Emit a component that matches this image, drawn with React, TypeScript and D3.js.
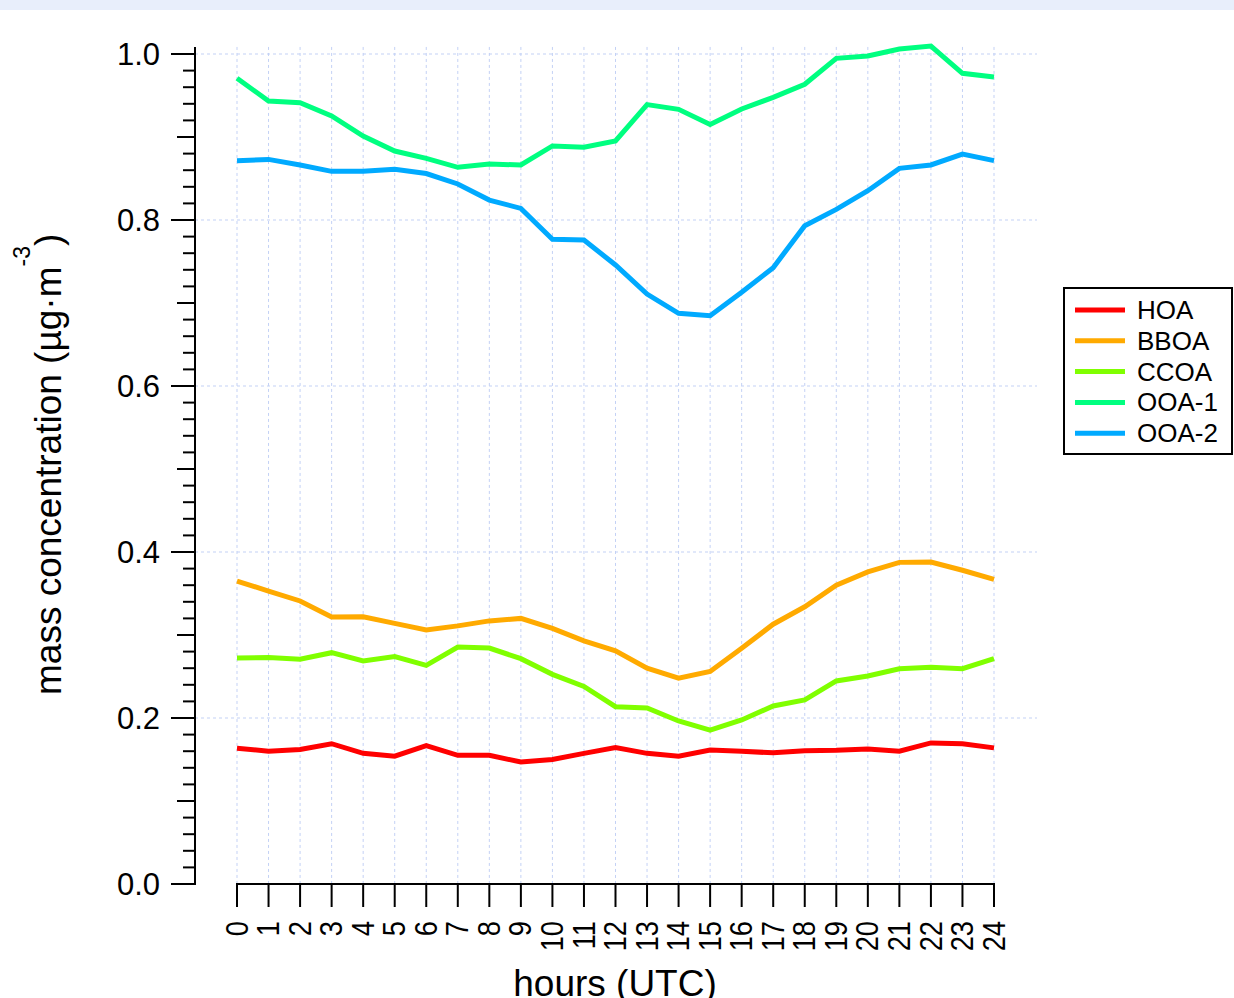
import * as d3 from 'd3';

const hours = d3.range(0, 25);

const seriesNames = ['HOA', 'BBOA', 'CCOA', 'OOA-1', 'OOA-2'];
const seriesColors = ['#ff0000', '#ffaa00', '#80ff00', '#00ff80', '#00aaff'];

const hoa = [
  0.1635, 0.16, 0.162, 0.169, 0.1574, 0.154, 0.1667, 0.155, 0.155, 0.147, 0.15, 0.1574, 0.1645,
  0.1574, 0.154, 0.1614, 0.16, 0.158, 0.1606, 0.161, 0.1626, 0.16, 0.17, 0.169, 0.164,
];
const bboa = [
  0.365, 0.353, 0.341, 0.3217, 0.322, 0.314, 0.306, 0.311, 0.317, 0.32, 0.308, 0.293, 0.281,
  0.26, 0.248, 0.256, 0.284, 0.313, 0.334, 0.36, 0.376, 0.3875, 0.388, 0.378, 0.367,
];
const ccoa = [
  0.2723, 0.273, 0.2707, 0.2787, 0.2687, 0.274, 0.2635, 0.2855, 0.2843, 0.2715, 0.2526, 0.238,
  0.2136, 0.212, 0.1964, 0.1855, 0.1976, 0.2145, 0.2217, 0.2446, 0.2506, 0.2594, 0.261, 0.2594,
  0.2715,
];
const ooa1 = [
  0.9707, 0.9434, 0.9414, 0.9253, 0.9012, 0.8831, 0.8743, 0.8635, 0.8675, 0.8663, 0.8892, 0.8876,
  0.8952, 0.939, 0.9333, 0.915, 0.9337, 0.9478, 0.9635, 0.9948, 0.9976, 1.006, 1.0096, 0.9767,
  0.9723,
];
const ooa2 = [
  0.8715, 0.873, 0.8663, 0.8586, 0.8586, 0.861, 0.856, 0.8434, 0.824, 0.814, 0.7767, 0.7759,
  0.7458, 0.7108, 0.6876, 0.6847, 0.7129, 0.7426, 0.7931, 0.8128, 0.8353, 0.8622, 0.8663, 0.8795,
  0.8715,
];
const seriesValues = [hoa, bboa, ccoa, ooa1, ooa2];

const yMajorTicks = [0, 0.2, 0.4, 0.6, 0.8, 1.0];

const font = 'Liberation Sans, Arial, sans-serif';

export default function App() {
  const x = d3.scaleLinear().domain([0, 24]).range([237, 994]);
  const y = d3.scaleLinear().domain([0, 1]).range([884, 54]);
  const axisX = 195;
  const yTop = y(1.0085);
  const gridRight = 1037;

  const line = d3
    .line<number>()
    .x((_, i) => x(hours[i]))
    .y((d) => y(d));

  // y ticks: minor every 0.02, medium every 0.1, major every 0.2
  const yTicks = d3.range(0, 51).map((k) => {
    const v = k / 50;
    const len = k % 10 === 0 ? 24 : k % 5 === 0 ? 18 : 12;
    return (
      <line key={`yt${k}`} x1={axisX - len} x2={axisX} y1={y(v)} y2={y(v)} stroke='#000' strokeWidth={2} />
    );
  });

  const gridStyle = { stroke: '#c3d1f5', strokeWidth: 1, strokeDasharray: '3,3' };

  return (
    <svg
      width={1234}
      height={998}
      style={{ position: 'absolute', left: 0, top: 0, background: '#fff' }}
      fontFamily={font}
    >
      <rect x={0} y={0} width={1234} height={10} fill='#e8eefb' />

      <g>
        {yMajorTicks.slice(1).map((v) => (
          <line key={`gh${v}`} x1={axisX} x2={gridRight} y1={y(v)} y2={y(v)} style={gridStyle} />
        ))}
        {hours.map((h) => (
          <line key={`gv${h}`} x1={x(h)} x2={x(h)} y1={yTop} y2={884} style={gridStyle} />
        ))}
      </g>

      <g>
        {seriesValues.map((vals, i) => (
          <path
            key={seriesNames[i]}
            d={line(vals) || ''}
            fill='none'
            stroke={seriesColors[i]}
            strokeWidth={5}
            strokeLinejoin='miter'
          />
        ))}
      </g>

      <g>
        <line x1={axisX} x2={axisX} y1={yTop} y2={885} stroke='#000' strokeWidth={2} />
        {yTicks}
        {yMajorTicks.map((v) => (
          <text key={`yl${v}`} x={160} y={y(v) + 11} textAnchor='end' fontSize={31} fill='#000'>
            {v.toFixed(1)}
          </text>
        ))}
      </g>

      <g>
        <line x1={x(0) - 1} x2={x(24) + 1} y1={884} y2={884} stroke='#000' strokeWidth={2} />
        {hours.map((h) => (
          <line key={`xt${h}`} x1={x(h)} x2={x(h)} y1={884} y2={907} stroke='#000' strokeWidth={2} />
        ))}
        {hours.map((h) => (
          <text
            key={`xl${h}`}
            transform={`translate(${x(h)}, 921) rotate(-90) scale(0.88, 1)`}
            textAnchor='end'
            dominantBaseline='central'
            fontSize={31}
            fill='#000'
          >
            {h}
          </text>
        ))}
      </g>

      <text x={615} y={996} textAnchor='middle' fontSize={37} fill='#000'>
        hours (UTC)
      </text>

      <text transform='translate(61, 695) rotate(-90)' fontSize={37} fill='#000'>
        mass concentration (µg·m
        <tspan fontSize={23} dy={-31}>
          -3
        </tspan>
        <tspan dy={31}>)</tspan>
      </text>

      <g>
        <rect x={1064} y={288} width={168} height={166} fill='#fff' stroke='#000' strokeWidth={2} />
        {seriesNames.map((name, i) => {
          const ry = 310 + i * 30.8;
          return (
            <g key={`lg${name}`}>
              <line x1={1075} x2={1125} y1={ry} y2={ry} stroke={seriesColors[i]} strokeWidth={5} />
              <text x={1137} y={ry + 9} fontSize={26} fill='#000'>
                {name}
              </text>
            </g>
          );
        })}
      </g>
    </svg>
  );
}
